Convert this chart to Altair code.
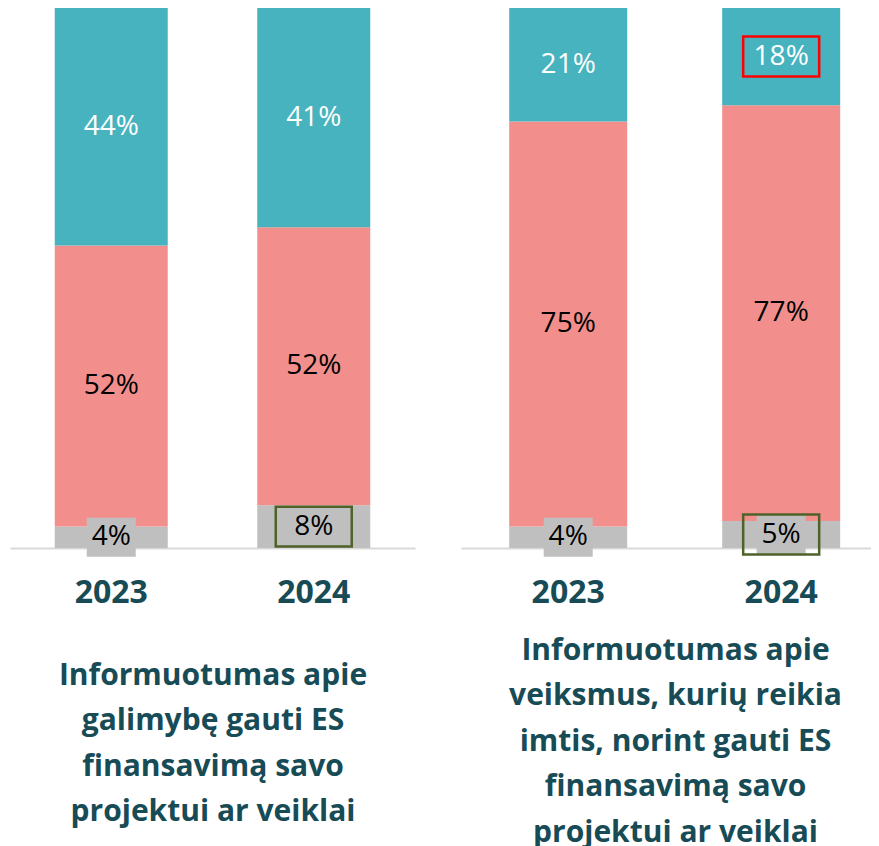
import altair as alt
import pandas as pd

# ---- data ----
years = ["2023", "2024"]
segments = ["Nežino", "Neinformuoti", "Informuoti"]  # bottom -> top

panel_ids = ["A", "B"]
panel_titles = {
    "A": ["Informuotumas apie", "galimybę gauti ES", "finansavimą savo", "projektui ar veiklai"],
    "B": ["Informuotumas apie", "veiksmus, kurių reikia", "imtis, norint gauti ES",
          "finansavimą savo", "projektui ar veiklai"],
}
A_nezino = [4, 8]
A_neinformuoti = [52, 52]
A_informuoti = [44, 41]
B_nezino = [4, 5]
B_neinformuoti = [75, 77]
B_informuoti = [21, 18]

# highlighted labels: (panel, year, segment, kind)
highlights = [
    ("A", "2024", "Nežino", "padidėjo"),
    ("B", "2024", "Nežino", "padidėjo"),
    ("B", "2024", "Informuoti", "sumažėjo"),
]

vals = {
    "A": [A_nezino, A_neinformuoti, A_informuoti],
    "B": [B_nezino, B_neinformuoti, B_informuoti],
}
rows = []
for p in panel_ids:
    for si, seg in enumerate(segments):
        for yi, yr in enumerate(years):
            mark = ""
            for hp, hy, hs, hk in highlights:
                if hp == p and hy == yr and hs == seg:
                    mark = hk
            rows.append({"panel": p, "year": yr, "segment": seg, "order": si,
                         "value": vals[p][si][yi], "mark": mark})
df = pd.DataFrame(rows)

# ---- style ----
GREY = "#bfbfbf"
PINK = "#f28f8c"
TEAL = "#46b3be"
DARK = "#174b56"
FONT = "Open Sans"

BOX_PATH = "M-1,-0.526L1,-0.526L1,0.526L-1,0.526Z"
BG_PATH = "M-1,-0.796L1,-0.796L1,0.796L-1,0.796Z"


def panel(pid, width, p_inner, p_outer, align, title_pad, title_x):
    d = df[df.panel == pid]
    base = alt.Chart(d)
    xenc = alt.X(
        "year:N", sort=years,
        scale=alt.Scale(paddingInner=p_inner, paddingOuter=p_outer, align=align),
        axis=alt.Axis(
            title=panel_titles[pid], labelAngle=0, ticks=False, tickSize=0,
            domainColor="#d9d9d9", domainWidth=2,
            labelFont=FONT, labelFontWeight="bold", labelFontSize=32, labelColor=DARK,
            labelPadding=29,
            titleFont=FONT, titleFontWeight="bold", titleFontSize=30, titleColor=DARK,
            titleLineHeight=45.5, titlePadding=title_pad, titleX=title_x,
            titleAlign="center", titleAnchor="middle",
        ),
    )
    yscale = alt.Scale(domain=[0, 1])
    bars = base.mark_bar().encode(
        x=xenc,
        y=alt.Y("value:Q", stack="normalize", axis=None, scale=yscale),
        color=alt.Color("segment:N", scale=alt.Scale(domain=segments, range=[GREY, PINK, TEAL]),
                        legend=None),
        order=alt.Order("order:Q", sort="ascending"),
    )
    lab = (
        base.transform_joinaggregate(total="sum(value)", groupby=["year"])
        .transform_window(cum="sum(value)", sort=[alt.SortField("order", order="ascending")],
                          groupby=["year"], frame=[None, 0])
        .transform_calculate(mid="(datum.cum - datum.value / 2) / datum.total",
                             label="datum.value + '%'")
    )
    bg = lab.transform_filter(alt.datum.segment == "Nežino").mark_point(
        shape=BG_PATH, size=2401, filled=True, fill=GREY, opacity=1, strokeWidth=0
    ).encode(x=xenc, y=alt.Y("mid:Q", axis=None, scale=yscale))
    text = lab.mark_text(font=FONT, fontSize=28).encode(
        x=xenc,
        y=alt.Y("mid:Q", axis=None, scale=yscale),
        text="label:N",
        color=alt.Color("segment:N",
                        scale=alt.Scale(domain=segments, range=["#000000", "#000000", "#ffffff"]),
                        legend=None),
    )
    boxes = lab.transform_filter("datum.mark != ''").mark_point(
        shape=BOX_PATH, size=5776, filled=False, opacity=1, strokeWidth=2.5
    ).encode(
        x=xenc,
        y=alt.Y("mid:Q", axis=None, scale=yscale),
        stroke=alt.Stroke("mark:N", scale=alt.Scale(domain=["padidėjo", "sumažėjo"],
                                                   range=["#4f6228", "#ff0000"]), legend=None),
    )
    return alt.layer(bars, bg, text, boxes).resolve_scale(color="independent").properties(
        width=width, height=540)


left = panel("A", 405, 0.442, 0.221, 0.5, 52, 202.5)
right = panel("B", 410, 0.446, 0.1855, 0.61, 27, 214)

chart = alt.hconcat(left, right, spacing=46).properties(
    padding={"left": 2, "top": 0, "right": 0, "bottom": 0}
).configure_view(stroke=None)

chart.save("out.html", embed_options={"renderer": "svg", "actions": False})
